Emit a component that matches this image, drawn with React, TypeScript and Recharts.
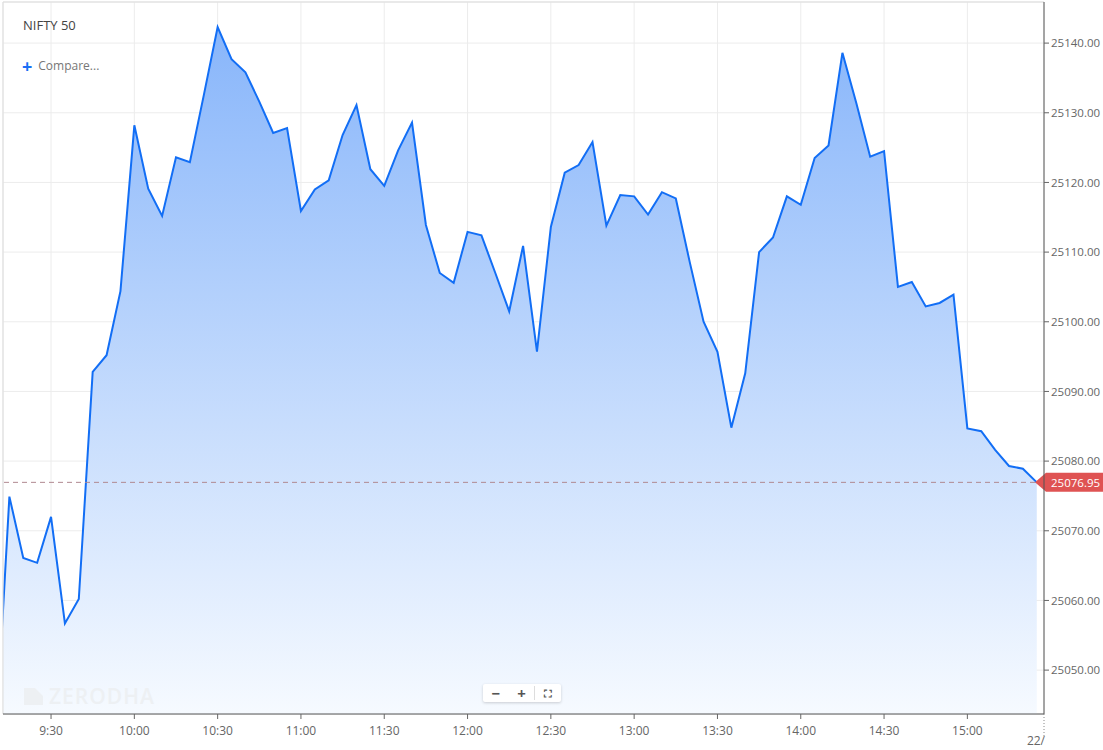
import React from 'react';
import { AreaChart, Area, XAxis, YAxis, CartesianGrid, ReferenceLine } from 'recharts';

// 5-minute closes, first point is the carry-over from before the visible window
const times = [
  '9:10', '9:15', '9:20', '9:25', '9:30', '9:35', '9:40', '9:45', '9:50', '9:55',
  '10:00', '10:05', '10:10', '10:15', '10:20', '10:25', '10:30', '10:35', '10:40', '10:45', '10:50', '10:55',
  '11:00', '11:05', '11:10', '11:15', '11:20', '11:25', '11:30', '11:35', '11:40', '11:45', '11:50', '11:55',
  '12:00', '12:05', '12:10', '12:15', '12:20', '12:25', '12:30', '12:35', '12:40', '12:45', '12:50', '12:55',
  '13:00', '13:05', '13:10', '13:15', '13:20', '13:25', '13:30', '13:35', '13:40', '13:45', '13:50', '13:55',
  '14:00', '14:05', '14:10', '14:15', '14:20', '14:25', '14:30', '14:35', '14:40', '14:45', '14:50', '14:55',
  '15:00', '15:05', '15:10', '15:15', '15:20', '15:25',
];

const prices = [
  25039.4, 25074.9, 25066.1, 25065.4, 25072.0, 25056.7, 25060.2, 25092.8, 25095.2, 25104.4,
  25128.2, 25119.1, 25115.2, 25123.6, 25122.9, 25132.5, 25142.3, 25137.7, 25135.8, 25131.6, 25127.1, 25127.8,
  25115.9, 25119.0, 25120.3, 25126.8, 25131.1, 25121.9, 25119.5, 25124.6, 25128.6, 25113.9, 25107.0, 25105.6,
  25112.9, 25112.4, 25107.0, 25101.5, 25110.9, 25095.7, 25113.6, 25121.4, 25122.5, 25125.8, 25113.8, 25118.2,
  25118.0, 25115.4, 25118.6, 25117.7, 25108.6, 25100.0, 25095.7, 25084.8, 25092.6, 25110.0, 25112.1, 25118.0,
  25116.8, 25123.5, 25125.3, 25138.6, 25131.4, 25123.7, 25124.5, 25105.0, 25105.7, 25102.2, 25102.7, 25103.9,
  25084.7, 25084.3, 25081.6, 25079.3, 25078.9, 25076.95,
];

const timeTicks = ['9:30', '10:00', '10:30', '11:00', '11:30', '12:00', '12:30', '13:00', '13:30', '14:00', '14:30', '15:00'];
const priceTicks = [25050, 25060, 25070, 25080, 25090, 25100, 25110, 25120, 25130, 25140];
const dateLabel = '22/';

const toMin = (s: string) => {
  const [h, m] = s.split(':').map(Number);
  return (h - 9) * 60 + m;
};
const fmtTime = (t: number) => {
  const h = 9 + Math.floor(t / 60);
  const m = Math.round(t % 60);
  return `${h}:${m < 10 ? '0' + m : m}`;
};

const data = times.map((t, i) => ({ t: toMin(t), price: prices[i] }));
const lastPrice = prices[prices.length - 1];

const xMin = 12.7;
const xMax = 387.6;
const yMin = 25043.7;
const yMax = 25145.9;

const XTick = (props: any) => {
  const { x, y, payload } = props;
  if (payload.value >= xMax - 0.01) {
    return (
      <g>
        <line x1={x} x2={x} y1={y} y2={y + 22} stroke="#888" strokeDasharray="1 2" />
        <text x={x + 1} y={y + 31} textAnchor="end" fill="#666" fontSize={12}>{dateLabel}</text>
      </g>
    );
  }
  return (
    <g>
      <line x1={x} x2={x} y1={y} y2={y + 5} stroke="#666" />
      <text x={x} y={y + 21} textAnchor="middle" fill="#666" fontSize={12}>{fmtTime(payload.value)}</text>
    </g>
  );
};

const PriceTag = (props: any) => {
  const vb = props.viewBox || {};
  const y = vb.y + (vb.height || 0) / 2;
  const x = vb.x + vb.width;
  return (
    <g>
      <path
        d={`M${x - 9},${y} L${x + 2},${y - 9.5} L${x + 62},${y - 9.5} L${x + 62},${y + 9.5} L${x + 2},${y + 9.5} Z`}
        fill="#df5353"
      />
      <text x={x + 7} y={y + 4.2} fill="#fff" fontSize={11.5}>{lastPrice.toFixed(2)}</text>
    </g>
  );
};

export default function App() {
  return (
    <div style={{ position: 'absolute', left: 0, top: 0, width: 1103, height: 750, fontFamily: '"Open Sans", sans-serif', background: '#fff' }}>
      <AreaChart width={1103} height={750} data={data} margin={{ top: 2, right: 0, left: 3, bottom: 0 }}>
        <defs>
          <linearGradient id="fillNifty" gradientUnits="userSpaceOnUse" x1="0" y1="2" x2="0" y2="714">
            <stop offset="0%" stopColor="#84b3fa" />
            <stop offset="100%" stopColor="#f6faff" />
          </linearGradient>
        </defs>
        <CartesianGrid stroke="#ececec" />
        <XAxis
          dataKey="t"
          type="number"
          domain={[xMin, xMax]}
          allowDataOverflow
          ticks={[...timeTicks.map(toMin), xMax]}
          tick={<XTick />}
          tickLine={false}
          tickSize={0}
          tickMargin={0}
          height={36}
          axisLine={{ stroke: '#555' }}
          interval={0}
        />
        <YAxis
          orientation="right"
          type="number"
          domain={[yMin, yMax]}
          allowDataOverflow
          ticks={priceTicks}
          tickFormatter={(v: number) => v.toFixed(2)}
          width={59}
          tickSize={5}
          tickMargin={2}
          tick={{ fill: '#666', fontSize: 11.5 }}
          tickLine={{ stroke: '#666' }}
          axisLine={{ stroke: '#555' }}
          interval={0}
        />
        <ReferenceLine y={yMax} stroke="#dddddd" />
        <ReferenceLine x={xMin} stroke="#dddddd" />
        <Area
          type="linear"
          dataKey="price"
          stroke="#126ef5"
          strokeWidth={2}
          fill="url(#fillNifty)"
          fillOpacity={1}
          isAnimationActive={false}
          dot={false}
          activeDot={false}
        />
        <ReferenceLine y={lastPrice} stroke="#b08890" strokeDasharray="5 4" label={PriceTag} />
      </AreaChart>

      <div style={{ position: 'absolute', left: 23, top: 16, fontSize: 13, lineHeight: '18px', color: '#444' }}>NIFTY 50</div>
      <div style={{ position: 'absolute', left: 22, top: 57, height: 18, fontSize: 12, lineHeight: '18px', color: '#777', display: 'flex', alignItems: 'center' }}>
        <span style={{ color: '#1a6ff5', fontWeight: 700, fontSize: 18, lineHeight: '18px', marginRight: 6 }}>+</span>
        <span>Compare...</span>
      </div>

      <div style={{ position: 'absolute', left: 24, top: 682, display: 'flex', alignItems: 'center', color: '#edf0f3', fontSize: 21, fontWeight: 600, letterSpacing: 1 }}>
        <svg width={19} height={17} style={{ marginRight: 6 }}>
          <path d="M0,0 L11,0 L19,8 L19,17 L0,17 Z" fill="#edf0f3" />
        </svg>
        ZERODHA
      </div>

      <div style={{ position: 'absolute', left: 483, top: 684, width: 78, height: 18, background: '#fff', borderRadius: 2, boxShadow: '0 1px 3px rgba(0,0,0,0.18)', display: 'flex', alignItems: 'center', color: '#555', fontSize: 15, fontWeight: 700 }}>
        <span style={{ width: 26, textAlign: 'center' }}>−</span>
        <span style={{ width: 26, textAlign: 'center', borderRight: '1px solid #ddd', lineHeight: '14px' }}>+</span>
        <span style={{ width: 26, textAlign: 'center', fontSize: 11 }}>⛶</span>
      </div>
    </div>
  );
}
